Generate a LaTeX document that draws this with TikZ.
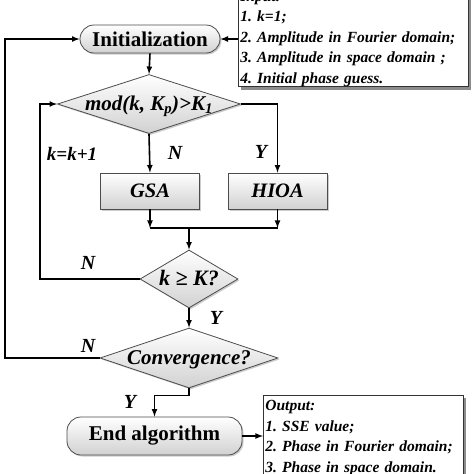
\documentclass[tikz,border=0pt]{standalone}
\usepackage{fontspec}
\setmainfont{Liberation Serif}
\usetikzlibrary{arrows,shapes.geometric,shadows}

\begin{document}
\frenchspacing
\begin{tikzpicture}[x=1pt,y=-1pt,
    box/.style={draw=black!70,line width=.8pt,top color=white,bottom color=black!18,
      drop shadow={shadow xshift=1.5pt,shadow yshift=-1.5pt,fill=black!40}},
    term/.style={box,rounded corners=14pt,inner sep=0pt,font=\fontsize{21}{24}\selectfont\bfseries},
    proc/.style={box,minimum width=99pt,minimum height=36pt,inner sep=0pt,font=\fontsize{20.5}{24}\selectfont\bfseries\itshape},
    cond/.style={box,diamond,inner sep=0pt,text height=12pt,text depth=0pt,font=\fontsize{22}{24}\selectfont\bfseries\itshape},
    note/.style={draw=black!80,line width=.8pt,fill=white,align=left,inner sep=2pt,
      font=\fontsize{15.5}{20.5}\selectfont\bfseries\itshape,
      drop shadow={shadow xshift=3pt,shadow yshift=-3pt,fill=black!45,opacity=1}},
    lbl/.style={font=\fontsize{20}{24}\selectfont\bfseries\itshape},
    line/.style={line width=1.6pt,-latex}]

  %%%% Page frame %%%%
  \useasboundingbox (0,0) rectangle (474,474);
  \clip (0,0) rectangle (474,474);

  %%%% Nodes of the flow %%%%
  \node[term,minimum width=140pt,minimum height=28pt] (init) at (150,39) {Initialization};
  \node[cond,shape aspect=3.1,minimum width=183pt,minimum height=59pt,font=\fontsize{21}{24}\selectfont\bfseries\itshape] (mode) at (149,104) {mod(k, K\textsubscript{p})>K\textsubscript{1}\hspace{3pt}};
  \node[proc] (gsa) at (150,191) {GSA};
  \node[proc] (hioa) at (277.5,191) {HIOA};
  \node[cond,shape aspect=1.69,minimum width=98pt,minimum height=58pt] (iter) at (189,279) {k ≥ K?};
  \node[cond,shape aspect=2.97,minimum width=178pt,minimum height=60pt,font=\fontsize{21}{24}\selectfont\bfseries\itshape] (conv) at (189,358) {Convergence?};
  \node[term,minimum width=175pt,minimum height=38pt] (stop) at (154.5,436) {End algorithm};

  %% Input and output notes
  \node[note,inner ysep=0pt,anchor=south west,text width=226pt] (input) at (238,87)
    {Input:\\1. k=1;\\2. Amplitude in Fourier domain;\\3. Amplitude in space domain ;\\4. Initial phase guess.};
  \node[note,inner ysep=5pt,anchor=north west,text width=196pt] (output) at (263,395)
    {Output:\\1. SSE value;\\2. Phase in Fourier domain;\\3. Phase in space domain.};

  %% Coordinates of the loops and of the join
  \coordinate (inner) at (40,0);
  \coordinate (outer) at (5,0);
  \coordinate (join) at (189,228);

  %%%% Connectors %%%%
  \draw[line] (init.east -| input.west) -- (init.east);
  \draw[line] (init.south) -- (mode.north);
  \draw[line] (mode.south) -- (gsa.north);
  \draw[line] (mode.east) -| (hioa.north);
  \draw[line] (gsa.south) -- (gsa.south |- join);
  \draw[line] (hioa.south) -- (hioa.south |- join);
  \draw[line width=1.6pt] (gsa.south |- join) -- (hioa.south |- join);
  \draw[line] (join) -- (iter.north);
  \draw[line] (iter.west) -- (iter.west -| inner) -- (mode.west -| inner) -- (mode.west);
  \draw[line] (iter.south) -- (conv.north);
  \draw[line] (conv.west) -- (conv.west -| outer) -- (init.west -| outer) -- (init.west);
  \draw[line] (conv.south) -- ++(0,7) -| (stop.north);
  \draw[line] (stop.east) -- (output.west |- stop.east);

  %% Branch labels
  \node[lbl] (ln1) at (175,153) {N};
  \node[lbl] (ly1) at (261,152) {Y};
  \node[lbl,font=\fontsize{19}{24}\selectfont\bfseries\itshape] (linc) at (72,154) {k=k+1};
  \node[lbl] (ln2) at (88,263) {N};
  \node[lbl] (ly2) at (216,318) {Y};
  \node[lbl] (ln3) at (88,346) {N};
  \node[lbl] (ly3) at (130,402) {Y};

\end{tikzpicture}
\end{document}
